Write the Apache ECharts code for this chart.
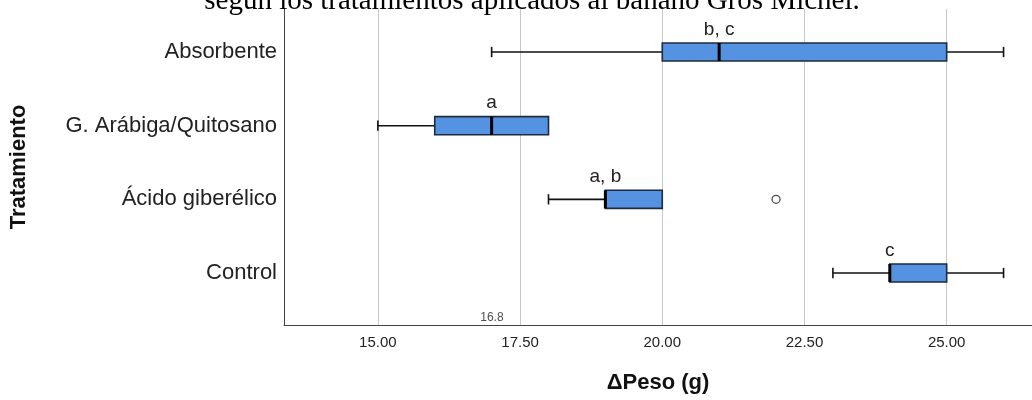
<!DOCTYPE html>
<html>
<head>
<meta charset="utf-8">
<script src="https://cdn.jsdelivr.net/npm/echarts@6/dist/echarts.min.js"></script>
<style>
html,body{margin:0;padding:0;background:#fff;}
#chart{width:1032px;height:400px;}
</style>
</head>
<body>
<div id="chart"></div>
<script>
// ---- data ----
const titleText = 'según los tratamientos aplicados al banano Gros Michel.';
const categories = ['Absorbente', 'G. Arábiga/Quitosano', 'Ácido giberélico', 'Control'];
const mins    = [17, 15, 18, 23];
const q1s     = [20, 16, 19, 24];
const medians = [21, 17, 19, 24];
const q3s     = [25, 18, 20, 25];
const maxs    = [26, 18, 20, 26];
const letters = ['b, c', 'a', 'a, b', 'c'];
const outlierValues = [22];
const outlierCategories = ['Ácido giberélico'];
const xTicks = [15, 17.5, 20, 22.5, 25];
const refValue = 16.8;
const refText = '16.8';
const xName = 'ΔPeso (g)';
const yName = 'Tratamiento';

// ---- build ----
const n = categories.length;
const posOf = (cat) => n - categories.indexOf(cat); // top category highest
const yMin = 0.294, yMax = 4.584;

const boxData = categories.map((c, i) => [posOf(c), mins[i], q1s[i], medians[i], q3s[i], maxs[i]]);
const outlierData = outlierValues.map((v, i) => [v, posOf(outlierCategories[i])]);

const chart = echarts.init(document.getElementById('chart'), null, {renderer: 'canvas'});
const font = '"Liberation Sans", Arial, sans-serif';

const option = {
  animation: false,
  backgroundColor: '#fff',
  graphic: [{
    type: 'text',
    x: 532, y: 16,
    z: 10,
    style: {
      text: titleText,
      font: '29px "Liberation Serif", "Times New Roman", serif',
      fill: '#000',
      align: 'center',
      verticalAlign: 'bottom'
    }
  }],
  grid: {left: 283, right: 0, top: 9, bottom: 75, containLabel: false},
  xAxis: {
    type: 'value', min: 13.35, max: 26.5,
    name: xName, nameLocation: 'middle', nameGap: 47,
    nameTextStyle: {fontFamily: font, fontWeight: 'bold', fontSize: 22, color: '#111'},
    axisLine: {show: true, lineStyle: {color: '#444', width: 1}},
    axisTick: {show: false, customValues: xTicks},
    axisLabel: {customValues: xTicks, formatter: v => Number(v).toFixed(2), fontFamily: font, fontSize: 15, color: '#222', margin: 10},
    splitLine: {show: true, lineStyle: {color: '#c8c8c8', width: 1}}
  },
  yAxis: {
    type: 'value', min: yMin, max: yMax,
    name: yName, nameLocation: 'middle', nameGap: 254, nameRotate: 90,
    nameTextStyle: {fontFamily: font, fontWeight: 'bold', fontSize: 22, color: '#111'},
    axisLine: {show: true, lineStyle: {color: '#444', width: 1}},
    axisTick: {show: false, customValues: [1, 2, 3, 4]},
    axisLabel: {customValues: [1, 2, 3, 4], formatter: v => categories[n - Math.round(v)], fontFamily: font, fontSize: 22, color: '#222', margin: 7},
    splitLine: {show: false}
  },
  series: [
    {
      type: 'custom',
      data: boxData,
      encode: {x: [1, 2, 3, 4, 5], y: 0},
      renderItem: function (params, api) {
        const y = api.value(0);
        const lo = api.value(1), q1 = api.value(2), md = api.value(3), q3 = api.value(4), hi = api.value(5);
        const pLo = api.coord([lo, y]), pQ1 = api.coord([q1, y]), pMd = api.coord([md, y]);
        const pQ3 = api.coord([q3, y]), pHi = api.coord([hi, y]);
        const h = api.size([0, 0.245])[1];
        const cap = api.size([0, 0.14])[1];
        const whisk = {stroke: '#111', lineWidth: 1.6};
        const children = [];
        if (lo < q1) {
          children.push({type: 'line', shape: {x1: pLo[0], y1: pLo[1], x2: pQ1[0], y2: pQ1[1]}, style: whisk});
          children.push({type: 'line', shape: {x1: pLo[0], y1: pLo[1] - cap / 2, x2: pLo[0], y2: pLo[1] + cap / 2}, style: whisk});
        }
        if (hi > q3) {
          children.push({type: 'line', shape: {x1: pQ3[0], y1: pQ3[1], x2: pHi[0], y2: pHi[1]}, style: whisk});
          children.push({type: 'line', shape: {x1: pHi[0], y1: pHi[1] - cap / 2, x2: pHi[0], y2: pHi[1] + cap / 2}, style: whisk});
        }
        children.push({type: 'rect', shape: {x: pQ1[0], y: pQ1[1] - h / 2, width: pQ3[0] - pQ1[0], height: h},
          style: {fill: '#5593e2', stroke: '#1e2b3c', lineWidth: 1.6}});
        children.push({type: 'line', shape: {x1: pMd[0], y1: pMd[1] - h / 2, x2: pMd[0], y2: pMd[1] + h / 2},
          style: {stroke: '#000', lineWidth: 3}});
        children.push({type: 'text', x: pMd[0], y: pMd[1] - h / 2 - 4,
          style: {text: letters[params.dataIndex], align: 'center', verticalAlign: 'bottom', font: '19px ' + font, fill: '#222'}});
        return {type: 'group', children: children};
      },
      z: 3
    },
    {
      type: 'scatter',
      data: outlierData,
      symbol: 'circle', symbolSize: 8,
      itemStyle: {color: '#fff', borderColor: '#222', borderWidth: 1.3},
      z: 4
    },
    {
      type: 'scatter',
      data: [[refValue, yMin]],
      symbolSize: 0,
      label: {show: true, formatter: refText, position: 'top', align: 'left', distance: 1,
        fontFamily: font, fontSize: 12, color: '#222'},
      z: 4
    }
  ]
};
chart.setOption(option);
</script>
</body>
</html>
